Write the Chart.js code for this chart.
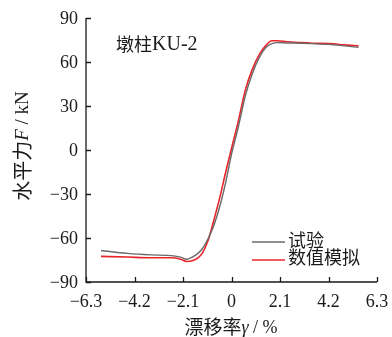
<!DOCTYPE html>
<html>
<head>
<meta charset="utf-8">
<script src="https://cdn.jsdelivr.net/npm/chart.js@4.4.1/dist/chart.umd.min.js"></script>
<style>
html,body{margin:0;padding:0;background:#fff;}
#wrap{width:392px;height:337px;position:relative;}
</style>
</head>
<body>
<div id="wrap"><canvas id="c" width="392" height="337"></canvas></div>
<script>
// ---- data ----
const xTicks = [-6.3, -4.2, -2.1, 0, 2.1, 4.2, 6.3];
const yTicks = [-90, -60, -30, 0, 30, 60, 90];
const testX = [-5.65,-4.5,-3.5,-2.6,-2.2,-1.95,-1.7,-1.45,-1.25,-1.0,-0.8,-0.5,-0.25,0,0.3,0.6,0.9,1.2,1.5,1.75,2.0,2.4,3.0,3.5,4.2,4.9,5.5];
const testY = [-68.5,-70.5,-71.5,-72,-73,-74.5,-73,-70.5,-67,-60,-53,-38,-22,-3,16,37,52,63,70,72.5,73.2,73,72.8,72.5,72,71,70];
const simX  = [-5.65,-4.5,-3.5,-2.6,-2.2,-1.95,-1.7,-1.45,-1.25,-1.0,-0.8,-0.5,-0.25,0,0.3,0.6,0.9,1.2,1.5,1.75,2.0,2.4,3.0,3.5,4.2,4.9,5.5];
const simY  = [-72.5,-73,-73.5,-73.5,-74.5,-76,-75.5,-73.5,-70,-61,-50,-32,-15,1,20,41,55,65,71.5,74.5,74.5,73.8,73.2,72.8,72.5,71.7,71];
const seriesNames = ['试验', '数值模拟'];
const panelLabel = ['墩柱', 'KU-2'];

const pts = (xs, ys) => xs.map((x, i) => ({x: x, y: ys[i]}));
const fmt = v => (v < 0 ? '\u2212' + Math.abs(v) : String(v));
const SERIF = '"Liberation Serif", "Times New Roman", serif';
const CJK = '"Noto Sans CJK SC", sans-serif';
const COLORS = ['#6a6a6a', '#e8262b'];

function drawRun(ctx, parts, x, y) {
  // parts: [text, font, dy]
  parts.forEach(p => {
    ctx.font = p[1];
    ctx.fillText(p[0], x, y + (p[2] || 0));
    x += ctx.measureText(p[0]).width;
  });
}
function runWidth(ctx, parts) {
  let w = 0;
  parts.forEach(p => { ctx.font = p[1]; w += ctx.measureText(p[0]).width; });
  return w;
}

const decor = {
  id: 'decor',
  afterDraw(chart) {
    const ctx = chart.ctx;
    const xs = chart.scales.x, ys = chart.scales.y;
    const {left: L, bottom: B, top: T, right: R} = chart.chartArea;
    ctx.save();
    ctx.strokeStyle = '#1a1a1a';
    ctx.lineWidth = 1.3;
    ctx.beginPath();
    ctx.moveTo(L, T); ctx.lineTo(L, B); ctx.lineTo(R, B);
    ctx.stroke();
    ctx.beginPath();
    xTicks.forEach(v => { const p = Math.round(xs.getPixelForValue(v)) + 0.5; ctx.moveTo(p, B); ctx.lineTo(p, B - 5); });
    yTicks.forEach(v => { const p = Math.round(ys.getPixelForValue(v)) + 0.5; ctx.moveTo(L, p); ctx.lineTo(L + 5, p); });
    ctx.stroke();
    // tick labels
    ctx.fillStyle = '#1a1a1a';
    ctx.font = '18px ' + SERIF;
    ctx.textAlign = 'right'; ctx.textBaseline = 'middle';
    yTicks.forEach(v => ctx.fillText(fmt(v), L - 8, ys.getPixelForValue(v) + 1));
    ctx.textAlign = 'center';
    xTicks.forEach(v => ctx.fillText(fmt(v), xs.getPixelForValue(v), B + 20));
    // x title
    ctx.textAlign = 'left'; ctx.textBaseline = 'middle';
    const xt = [['漂移率', '19px ' + CJK, 0], ['γ', 'italic 18px ' + SERIF, 1], [' / %', '18px ' + SERIF, 1]];
    drawRun(ctx, xt, 231 - runWidth(ctx, xt) / 2, 327);
    // y title
    ctx.save();
    ctx.translate(22, 146);
    ctx.rotate(-Math.PI / 2);
    const yt = [['水平力', '20px ' + CJK, 0], ['F', 'italic 19px ' + SERIF, 1], [' / kN', '19px ' + SERIF, 1]];
    drawRun(ctx, yt, -runWidth(ctx, yt) / 2, 0);
    ctx.restore();
    // panel label
    drawRun(ctx, [[panelLabel[0], '18px ' + CJK, 0], [panelLabel[1], '20px ' + SERIF, 1]], 116, 44);
    // legend
    const ly = [242, 260];
    const ty = [240, 257];
    seriesNames.forEach((n, i) => {
      ctx.strokeStyle = COLORS[i]; ctx.lineWidth = 1.5;
      ctx.beginPath(); ctx.moveTo(252, ly[i]); ctx.lineTo(285, ly[i]); ctx.stroke();
      ctx.fillStyle = '#1a1a1a';
      ctx.font = '18px ' + CJK;
      ctx.fillText(n, 288, ty[i]);
    });
    ctx.restore();
  }
};

new Chart(document.getElementById('c'), {
  type: 'line',
  data: {
    datasets: [
      { label: seriesNames[0], data: pts(testX, testY), borderColor: COLORS[0], borderWidth: 1.4, pointRadius: 0, fill: false, cubicInterpolationMode: 'monotone' },
      { label: seriesNames[1], data: pts(simX, simY), borderColor: COLORS[1], borderWidth: 1.6, pointRadius: 0, fill: false, cubicInterpolationMode: 'monotone' }
    ]
  },
  options: {
    responsive: false,
    animation: false,
    devicePixelRatio: 1,
    layout: { padding: { top: 18, right: 15, left: 0, bottom: 0 } },
    plugins: { legend: { display: false }, tooltip: { enabled: false } },
    scales: {
      x: {
        type: 'linear', min: -6.3, max: 6.3,
        afterBuildTicks: s => { s.ticks = xTicks.map(v => ({value: v})); },
        afterFit: s => { s.height = 55; },
        grid: { display: false, drawTicks: false },
        border: { display: false },
        ticks: { display: false }
      },
      y: {
        type: 'linear', min: -90, max: 90,
        afterBuildTicks: s => { s.ticks = yTicks.map(v => ({value: v})); },
        afterFit: s => { s.width = 86; },
        grid: { display: false, drawTicks: false },
        border: { display: false },
        ticks: { display: false }
      }
    }
  },
  plugins: [decor]
});
</script>
</body>
</html>
